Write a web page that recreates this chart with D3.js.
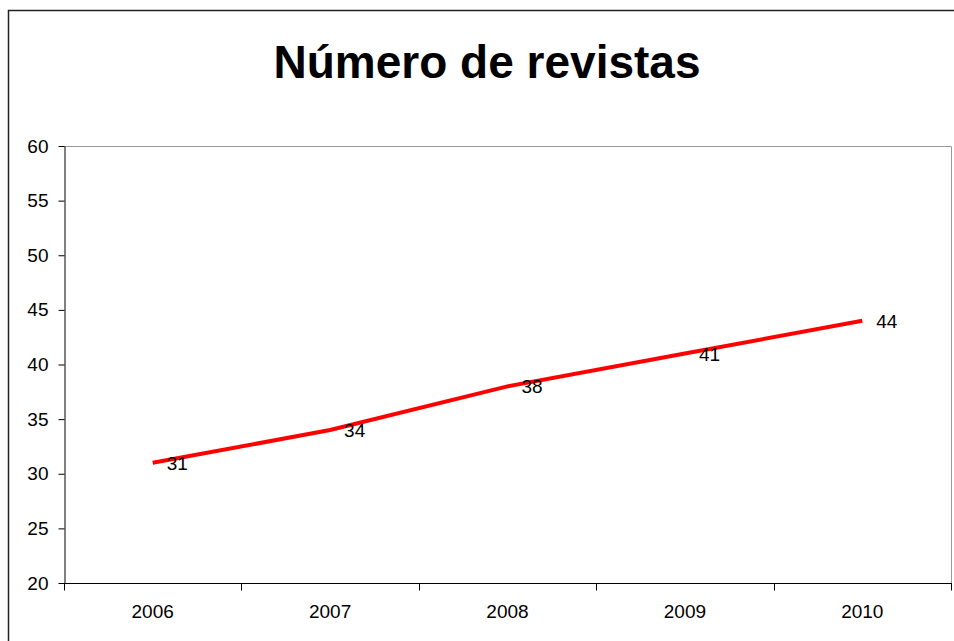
<!DOCTYPE html>
<html>
<head>
<meta charset="utf-8">
<script src="https://cdn.jsdelivr.net/npm/d3@7"></script>
<style>
  body { margin: 0; background: #fff; }
  svg { display: block; font-family: "Liberation Sans", Arial, sans-serif; }
</style>
</head>
<body>
<div id="chart"></div>
<script>
var years = ['2006', '2007', '2008', '2009', '2010'];
var revistas = [31, 34, 38, 41, 44];
var yTicks = [20, 25, 30, 35, 40, 45, 50, 55, 60];

var width = 954, height = 641;
var margin = { top: 146, right: 3, bottom: 58, left: 64 };

var svg = d3.select('#chart').append('svg')
  .attr('width', width)
  .attr('height', height);

// outer chart border
svg.append('rect')
  .attr('x', 8.5).attr('y', 10.5)
  .attr('width', 960).attr('height', 660)
  .attr('fill', 'none')
  .attr('stroke', '#222')
  .attr('stroke-width', 1.5);

svg.append('text')
  .attr('x', 487).attr('y', 78)
  .attr('text-anchor', 'middle')
  .style('font-size', '46px')
  .style('font-weight', 'bold')
  .text('Número de revistas');

var x = d3.scaleBand()
  .domain(years)
  .range([margin.left, width - margin.right]);

var y = d3.scaleLinear()
  .domain([20, 60])
  .range([height - margin.bottom, margin.top]);

// plot area frame (top/right in gray)
svg.append('path')
  .attr('d', 'M' + margin.left + ',' + (margin.top + 0.5) + 'H' + (width - margin.right + 0.5) + 'V' + y(20))
  .attr('fill', 'none')
  .attr('stroke', '#999')
  .attr('stroke-width', 1);

var yAxis = svg.append('g')
  .attr('transform', 'translate(' + (margin.left + 0.5) + ',0)')
  .call(d3.axisLeft(y).tickValues(yTicks).tickSize(6).tickPadding(10).tickSizeOuter(0));
yAxis.selectAll('text').style('font-size', '19px').attr('fill', '#000');
yAxis.selectAll('line, path').attr('stroke', '#000');

var xAxis = svg.append('g')
  .attr('transform', 'translate(0,' + (y(20) + 0.5) + ')');
xAxis.append('line')
  .attr('x1', margin.left).attr('x2', width - margin.right + 1)
  .attr('stroke', '#000');
var bounds = years.map(function (d) { return x(d); }).concat([x.range()[1]]);
xAxis.selectAll('.tk').data(bounds).enter().append('line')
  .attr('x1', function (d) { return Math.round(d) + 0.5; })
  .attr('x2', function (d) { return Math.round(d) + 0.5; })
  .attr('y1', 0).attr('y2', 7)
  .attr('stroke', '#000');
xAxis.selectAll('.lbl').data(years).enter().append('text')
  .attr('x', function (d) { return x(d) + x.bandwidth() / 2; })
  .attr('y', 34)
  .attr('text-anchor', 'middle')
  .style('font-size', '19px')
  .text(function (d) { return d; });

var line = d3.line()
  .x(function (d, i) { return x(years[i]) + x.bandwidth() / 2; })
  .y(function (d) { return y(d); });

svg.append('path')
  .datum(revistas)
  .attr('d', line)
  .attr('fill', 'none')
  .attr('stroke', '#ff0000')
  .attr('stroke-width', 4)
  .attr('stroke-linejoin', 'round');

svg.selectAll('.val').data(revistas).enter().append('text')
  .attr('x', function (d, i) { return x(years[i]) + x.bandwidth() / 2 + 14; })
  .attr('y', function (d) { return y(d) + 7; })
  .style('font-size', '19px')
  .text(function (d) { return d; });
</script>
</body>
</html>
